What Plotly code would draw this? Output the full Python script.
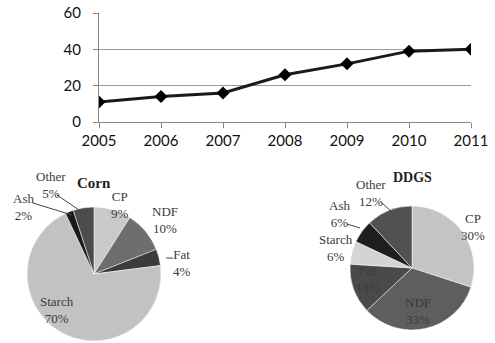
import plotly.graph_objects as go

# line chart data
years = [2005, 2006, 2007, 2008, 2009, 2010, 2011]
values = [11, 14, 16, 26, 32, 39, 40]

# pie data (clockwise from 12 o'clock)
corn_labels = ["CP", "NDF", "Fat", "Starch", "Ash", "Other"]
corn_values = [9, 10, 4, 70, 2, 5]
ddgs_labels = ["CP", "NDF", "Fat", "Starch", "Ash", "Other"]
ddgs_values = [30, 33, 13, 6, 6, 12]

corn_colors = ["#c9c9c9", "#6e6e6e", "#3c3c3c", "#c2c2c2", "#1a1a1a", "#4c4c4c"]
ddgs_colors = ["#c4c4c4", "#5e5e5e", "#4a4a4a", "#d4d4d4", "#1e1e1e", "#515151"]

W, H = 495, 343


def fx(p):
    return p / W


def fy(p):
    return 1 - p / H


fig = go.Figure()

fig.add_trace(go.Scatter(
    x=years, y=values, mode="lines+markers",
    line=dict(color="#1a1a1a", width=3),
    marker=dict(symbol="diamond", size=10, color="#000"),
    showlegend=False, xaxis="x", yaxis="y"))

fig.add_trace(go.Pie(
    labels=corn_labels, values=corn_values, sort=False, direction="clockwise",
    rotation=0, textinfo="none", hoverinfo="label+percent",
    marker=dict(colors=corn_colors, line=dict(color="#ffffff", width=0.5)),
    domain=dict(x=[fx(27), fx(161)], y=[fy(341), fy(207)]),
    showlegend=False))

fig.add_trace(go.Pie(
    labels=ddgs_labels, values=ddgs_values, sort=False, direction="clockwise",
    rotation=0, textinfo="none", hoverinfo="label+percent",
    marker=dict(colors=ddgs_colors, line=dict(color="#ffffff", width=0.5)),
    domain=dict(x=[fx(350), fx(474)], y=[fy(330), fy(206)]),
    showlegend=False))

serif = "Liberation Serif"
txt = "#3a3a3a"

# label positions in pixels (x, y) for each slice
corn_pos = {"CP": (120, 205), "NDF": (165, 220), "Fat": (182, 263),
            "Starch": (57, 310), "Ash": (23, 207), "Other": (51, 185)}
ddgs_pos = {"CP": (473, 227), "NDF": (418, 311), "Fat": (368, 279),
            "Starch": (336, 248), "Ash": (339, 214), "Other": (371, 193)}

anns = []
for labs, vals, pos in [(corn_labels, corn_values, corn_pos), (ddgs_labels, ddgs_values, ddgs_pos)]:
    for lab, v in zip(labs, vals):
        px_, py_ = pos[lab]
        anns.append(dict(x=fx(px_), y=fy(py_), xref="paper", yref="paper",
                         text=f"{lab}<br>{v}%", showarrow=False,
                         font=dict(family=serif, size=13, color=txt),
                         xanchor="center", yanchor="middle"))

anns.append(dict(x=fx(94), y=fy(183), xref="paper", yref="paper", text="<b>Corn</b>",
                 showarrow=False, xanchor="center", yanchor="middle",
                 font=dict(family=serif, size=15, color="#222")))
anns.append(dict(x=fx(412), y=fy(177), xref="paper", yref="paper", text="<b>DDGS</b>",
                 showarrow=False, xanchor="center", yanchor="middle",
                 font=dict(family=serif, size=14, color="#222")))

# leader lines
lines = [((57, 195), (82, 212)), ((33, 203), (72, 215)), ((166, 258), (173, 258)),
         ((382, 203), (392, 212)), ((347, 224), (360, 228))]
shapes = []
for (x0, y0), (x1, y1) in lines:
    shapes.append(dict(type="line", xref="paper", yref="paper",
                       x0=fx(x0), y0=fy(y0), x1=fx(x1), y1=fy(y1),
                       line=dict(color="#444", width=1)))

tickfont = dict(family="Lato", size=15, color="#111")

fig.update_layout(
    width=W, height=H,
    margin=dict(l=0, r=0, t=0, b=0, autoexpand=False),
    paper_bgcolor="white", plot_bgcolor="white",
    xaxis=dict(domain=[fx(99), fx(471)], range=[2005, 2011], tickvals=years,
               showgrid=False, showline=True, linecolor="#888", linewidth=1,
               ticks="outside", ticklen=5, tickcolor="#888", zeroline=False,
               tickfont=tickfont, anchor="y", automargin=False,
               ticklabeloverflow="allow"),
    yaxis=dict(domain=[fy(122), fy(13)], range=[0, 60], tickvals=[0, 20, 40, 60],
               showgrid=True, gridcolor="#999", gridwidth=1, showline=True,
               linecolor="#888", linewidth=1, ticks="outside", ticklen=5, tickcolor="#888",
               zeroline=False, tickfont=tickfont, anchor="x", automargin=False,
               ticklabelstandoff=9, ticklabeloverflow="allow"),
    annotations=anns,
    shapes=shapes,
)

# drop the default 8px body margin so the figure fills the window
fig.write_html("out.html", config={"displayModeBar": False},
               post_script="document.body.style.margin='0';")
